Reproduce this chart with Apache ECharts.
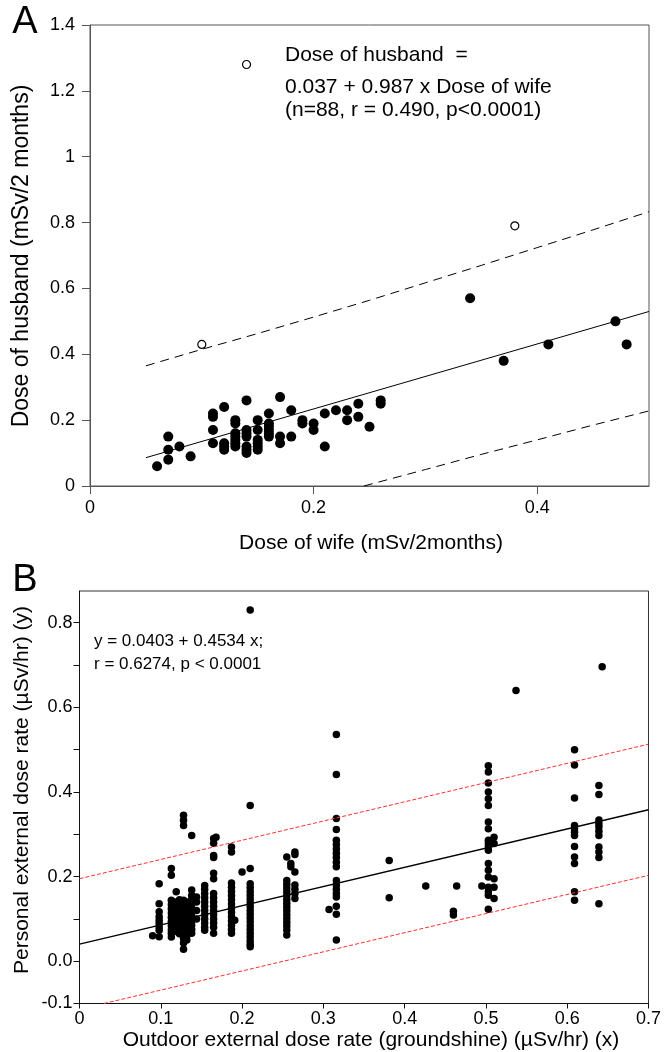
<!DOCTYPE html>
<html><head><meta charset="utf-8">
<script src="https://cdn.jsdelivr.net/npm/echarts@6/dist/echarts.min.js"></script>
<style>html,body{margin:0;padding:0;background:#fff}#c{width:664px;height:1052px}</style>
</head><body><div id="c"></div>
<script>
// ---------- Panel A data ----------
const aFilled = [
  [0.06,0.06],[0.07,0.15],[0.07,0.11],[0.07,0.08],[0.08,0.12],[0.09,0.09],
  [0.11,0.22],[0.11,0.21],[0.11,0.17],[0.11,0.13],
  [0.12,0.24],[0.12,0.13],[0.12,0.12],[0.12,0.11],
  [0.13,0.20],[0.13,0.19],[0.13,0.16],[0.13,0.15],[0.13,0.14],[0.13,0.13],[0.13,0.12],
  [0.14,0.26],[0.14,0.17],[0.14,0.16],[0.14,0.15],[0.14,0.12],[0.14,0.11],[0.14,0.10],
  [0.15,0.20],[0.15,0.17],[0.15,0.14],[0.15,0.13],[0.15,0.12],[0.15,0.11],
  [0.16,0.22],[0.16,0.19],[0.16,0.18],[0.16,0.17],[0.16,0.16],[0.16,0.15],
  [0.17,0.27],[0.17,0.15],[0.17,0.13],
  [0.18,0.23],[0.18,0.15],
  [0.19,0.20],[0.19,0.19],
  [0.20,0.19],[0.20,0.17],
  [0.21,0.22],[0.21,0.12],
  [0.22,0.23],
  [0.23,0.23],[0.23,0.20],
  [0.24,0.25],[0.24,0.21],
  [0.25,0.18],
  [0.26,0.26],[0.26,0.25],
  [0.34,0.57],[0.37,0.38],[0.41,0.43],[0.47,0.50],[0.48,0.43]
];
const aOpen = [[0.14,1.28],[0.10,0.43],[0.38,0.79]];
const aFit = [[0.05,0.086],[0.5,0.53]];
const aUpper = [[0.05,0.365],[0.1,0.415],[0.15,0.463],[0.2,0.513],[0.25,0.564],[0.3,0.617],[0.35,0.67],[0.4,0.724],[0.45,0.778],[0.5,0.833]];
const aLower = [[0.245,0.0],[0.3,0.05],[0.35,0.096],[0.4,0.14],[0.45,0.185],[0.5,0.228]];
const aXTicks = [0, 0.2, 0.4];

// ---------- Panel B data ----------
const bColX = [0.09,0.098,0.113,0.119,0.123,0.128,0.132,0.138,0.144,0.154,0.165,0.168,0.187,0.191,0.20,0.21,
  0.255,0.26,0.265,0.307,0.316,0.381,0.426,0.46,0.464,0.495,0.503,0.51,0.537,0.609,0.639,0.643];
const bColY = [
  [0.06],
  [0.183,0.136,0.117,0.105,0.097,0.089,0.081,0.073,0.058],
  [0.219,0.203,0.144,0.134,0.124,0.114,0.104,0.094,0.084,0.074,0.066,0.057],
  [0.164,0.14,0.13,0.12,0.11,0.10,0.09,0.08,0.07],
  [0.145,0.135,0.125,0.115,0.105,0.095,0.085,0.075,0.065],
  [0.345,0.333,0.321,0.144,0.134,0.124,0.114,0.104,0.094,0.084,0.074,0.064,0.054,0.043,0.028],
  [0.14,0.13,0.12,0.11,0.10,0.09,0.08,0.07,0.06,0.05],
  [0.297,0.168,0.155,0.145,0.135,0.125,0.115,0.105,0.095,0.085,0.075,0.066],
  [0.152,0.14,0.12,0.10],
  [0.179,0.17,0.16,0.15,0.14,0.13,0.12,0.11,0.10,0.09,0.08,0.073],
  [0.29,0.279,0.25,0.245,0.208,0.195,0.16,0.15,0.14,0.13,0.12,0.11,0.10,0.09,0.08,0.066],
  [0.293],
  [0.27,0.258,0.185,0.175,0.165,0.155,0.145,0.135,0.125,0.115,0.105,0.095,0.085,0.075,0.066],
  [0.097],
  [0.211],
  [0.83,0.368,0.219,0.183,0.174,0.165,0.156,0.147,0.138,0.129,0.12,0.111,0.102,0.093,0.084,0.075,0.066,0.057,0.048,0.04,0.034],
  [0.246,0.191,0.182,0.173,0.164,0.155,0.146,0.137,0.128,0.119,0.11,0.101,0.092,0.083,0.074,0.062],
  [0.231,0.223],
  [0.258,0.252,0.211,0.18,0.17,0.16,0.148],
  [0.122],
  [0.536,0.441,0.337,0.311,0.286,0.276,0.265,0.255,0.245,0.234,0.223,0.191,0.18,0.17,0.16,0.152,0.13,0.111,0.05],
  [0.238,0.15],
  [0.178],
  [0.118,0.109],
  [0.178],
  [0.178],
  [0.462,0.447,0.421,0.40,0.384,0.368,0.329,0.313,0.286,0.278,0.27,0.262,0.231,0.215,0.199,0.175,0.165,0.156,0.123],
  [0.293,0.278,0.195,0.175,0.148],
  [0.64],
  [0.50,0.464,0.386,0.321,0.313,0.305,0.297,0.271,0.246,0.231,0.164,0.144],
  [0.415,0.394,0.334,0.325,0.317,0.307,0.297,0.27,0.258,0.245,0.136],
  [0.696]
];
const bFit = [[0,0.0403],[0.7,0.358]];
const bUpper = [[0,0.195],[0.7,0.513]];
const bLower = [[0.03,-0.1],[0.7,0.203]];
const bYTicks = [-0.1,0,0.1,0.2,0.3,0.4,0.5,0.6,0.7,0.8];
const bYLabels = [-0.1,0,0.2,0.4,0.6,0.8];

const bPoints = [];
bColX.forEach((x,i)=>bColY[i].forEach(y=>bPoints.push([x,y])));

const FF = "'Liberation Sans', Arial, Helvetica, sans-serif";
const chart = echarts.init(document.getElementById('c'), null, {renderer:'canvas'});
const axA = {lineStyle:{color:'#555',width:1}, onZero:false};
const axB = {lineStyle:{color:'#111',width:1}, onZero:false};
const lbl = (m)=>({fontSize:18, color:'#000', fontFamily:FF, margin:m});

chart.setOption({
  animation:false,
  backgroundColor:'#fff',
  grid:[
    {left:90, top:25, width:559, height:461, show:true, borderColor:'#555', borderWidth:1},
    {left:79.5, top:591, width:570, height:412.5, show:true, borderColor:'#333', borderWidth:1}
  ],
  xAxis:[
    {gridIndex:0, type:'value', min:0, max:0.5, axisLine:axA,
     axisTick:{show:true, length:8, lineStyle:{color:'#555'}, customValues:aXTicks},
     axisLabel:Object.assign(lbl(13),{customValues:aXTicks}), splitLine:{show:false}},
    {gridIndex:1, type:'value', min:0, max:0.7, interval:0.1, axisLine:axB,
     axisTick:{show:true, length:5, lineStyle:{color:'#111'}},
     axisLabel:lbl(7), splitLine:{show:false}}
  ],
  yAxis:[
    {gridIndex:0, type:'value', min:0, max:1.4, interval:0.2, axisLine:axA,
     axisTick:{show:true, length:8, lineStyle:{color:'#555'}},
     axisLabel:lbl(15), splitLine:{show:false}},
    {gridIndex:1, type:'value', min:-0.1, max:0.875, interval:0.1, axisLine:axB,
     axisTick:{show:true, length:6, lineStyle:{color:'#111'}, customValues:bYTicks},
     axisLabel:Object.assign(lbl(7),{customValues:bYLabels, formatter:v=>Number(v).toFixed(1)}),
     splitLine:{show:false}}
  ],
  series:[
    {type:'line', xAxisIndex:0, yAxisIndex:0, data:aFit, showSymbol:false, silent:true,
     lineStyle:{color:'#000', width:1}},
    {type:'line', xAxisIndex:0, yAxisIndex:0, data:aUpper, showSymbol:false, silent:true,
     lineStyle:{color:'#000', width:1, type:[9,6]}},
    {type:'line', xAxisIndex:0, yAxisIndex:0, data:aLower, showSymbol:false, silent:true,
     lineStyle:{color:'#000', width:1, type:[9,6]}},
    {type:'scatter', xAxisIndex:0, yAxisIndex:0, data:aFilled, symbolSize:10,
     itemStyle:{color:'#000', opacity:1}},
    {type:'scatter', xAxisIndex:0, yAxisIndex:0, data:aOpen, symbolSize:8,
     itemStyle:{color:'#fff', borderColor:'#000', borderWidth:1.2, opacity:1}},
    {type:'scatter', xAxisIndex:1, yAxisIndex:1, data:bPoints, symbolSize:7.5,
     itemStyle:{color:'#000', opacity:1}},
    {type:'line', xAxisIndex:1, yAxisIndex:1, data:bFit, showSymbol:false, silent:true,
     lineStyle:{color:'#000', width:1.5}},
    {type:'line', xAxisIndex:1, yAxisIndex:1, data:bUpper, showSymbol:false, silent:true,
     lineStyle:{color:'#ff3030', width:1, type:[4,2]}},
    {type:'line', xAxisIndex:1, yAxisIndex:1, data:bLower, showSymbol:false, silent:true,
     lineStyle:{color:'#ff3030', width:1, type:[4,2]}}
  ],
  graphic:[
    {type:'text', x:25, y:23, style:{text:'A', fontSize:38, fontFamily:FF, fill:'#000', align:'center', verticalAlign:'middle'}},
    {type:'text', x:25, y:581, style:{text:'B', fontSize:38, fontFamily:FF, fill:'#000', align:'center', verticalAlign:'middle'}},
    {type:'text', x:285, y:55, style:{text:'Dose of husband  =', fontSize:21, fontFamily:FF, fill:'#000', align:'left', verticalAlign:'middle'}},
    {type:'text', x:285, y:87, style:{text:'0.037 + 0.987 x Dose of wife', fontSize:21, fontFamily:FF, fill:'#000', align:'left', verticalAlign:'middle'}},
    {type:'text', x:285, y:110, style:{text:'(n=88, r = 0.490, p<0.0001)', fontSize:21, fontFamily:FF, fill:'#000', align:'left', verticalAlign:'middle'}},
    {type:'text', x:94, y:641, style:{text:'y = 0.0403 + 0.4534 x;', fontSize:17, fontFamily:FF, fill:'#000', align:'left', verticalAlign:'middle'}},
    {type:'text', x:94, y:664, style:{text:'r = 0.6274, p < 0.0001', fontSize:17, fontFamily:FF, fill:'#000', align:'left', verticalAlign:'middle'}},
    {type:'text', x:371, y:543, style:{text:'Dose of wife (mSv/2months)', fontSize:21, fontFamily:FF, fill:'#000', align:'center', verticalAlign:'middle'}},
    {type:'text', x:22, y:256, rotation:Math.PI/2, style:{text:'Dose of husband (mSv/2 months)', fontSize:23, fontFamily:FF, fill:'#000', align:'center', verticalAlign:'middle'}},
    {type:'text', x:371, y:1040, style:{text:'Outdoor external dose rate (groundshine) (\u00b5Sv/hr) (x)', fontSize:21, fontFamily:FF, fill:'#000', align:'center', verticalAlign:'middle'}},
    {type:'text', x:22, y:790, rotation:Math.PI/2, style:{text:'Personal external dose rate (\u00b5Sv/hr) (y)', fontSize:21, fontFamily:FF, fill:'#000', align:'center', verticalAlign:'middle'}}
  ]
});
</script></body></html>
